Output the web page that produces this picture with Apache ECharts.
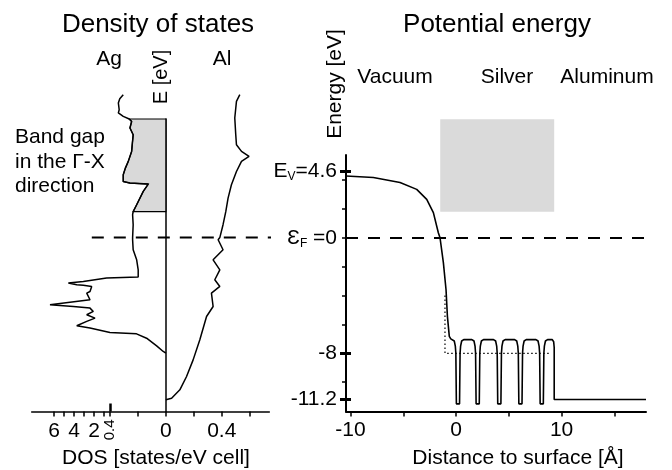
<!DOCTYPE html>
<html>
<head>
<meta charset="utf-8">
<title>Density of states / Potential energy</title>
<script src="https://cdn.jsdelivr.net/npm/echarts@6/dist/echarts.min.js"></script>
<style>
  html, body { margin: 0; padding: 0; background: #fff; }
  #chart { width: 672px; height: 470px; }
</style>
</head>
<body>
<div id="chart"></div>
<script>
// ---- values ----
// DOS panel, energy in eV, DOS in states/eV cell
var agE   = [9.88, 9.6, 9.31, 8.84, 8.62, 8.38, 8.2, 8.03, 7.58, 7.11, 6.5, 5.96, 5.27, 4.8, 4.35, 3.88, 3.77, 3.7, 3.19, 2.27, 1.8,
             1.58, 0.89, 0, -0.15, -0.84, -1.54, -2.23, -2.73, -2.8, -3.04, -3.15, -3.27, -3.3, -3.38, -3.73, -3.84, -4.3, -4.42,
             -4.65, -4.77, -4.88, -5.11, -5.34, -5.57, -5.8, -6.1, -6.26, -6.57, -6.66, -6.96, -7.49, -7.88, -8.0];
var agDos = [0.305, 0.33, 0.34, 0.334, 0.34, 0.305, 0.262, 0.245, 0.257, 0.234, 0.24, 0.245, 0.269, 0.29, 0.305, 0.305, 0.257, 0.126, 0.162, 0.209, 0.234,
             0.238, 0.234, 0.238, 0.238, 0.234, 0.209, 0.198, 0.198, 0.74, 3.07, 4.57, 3.73, 3.07, 2.23, 2.4, 2.73, 2.4, 2.4,
             6.41, 4.07, 2.4, 2.07, 2.73, 1.9, 2.73, 3.73, 2.4, 0.4, 0.21, 0.138, 0.066, 0.019, 0];
var alE   = [9.88, 9.42, 8.27, 7.11, 6.42, 5.96, 5.61, 5.27, 4.57, 3.65, 2.73, 1.81, 0.89, 0, -0.15, -0.84, -1.54, -2.23,
             -2.92, -3.38, -3.84, -4.77, -5.46, -7.07, -8.46, -9.61, -10.53, -11.11, -11.22];
var alDos = [0.529, 0.505, 0.493, 0.5, 0.505, 0.541, 0.595, 0.541, 0.505, 0.469, 0.445, 0.429, 0.409, 0.386, 0.374, 0.409, 0.338, 0.386,
             0.35, 0.386, 0.326, 0.338, 0.291, 0.243, 0.195, 0.148, 0.1, 0.041, 0];
var bandGap = [1.8, 8.2];      // Ag gap in the Gamma-X direction
var fermiLeft = [-0.53, 0.77]; // extent of the dashed E_F line, DOS units

// potential panel: [distance (A), energy (eV)]
var potential = [
  [-10.43, 4.28], [-7.84, 4.17], [-5.31, 3.82], [-3.73, 3.35], [-2.78, 2.66], [-2.15, 1.74], [-1.68, 0.35], [-1.52, 0],
  [-1.2, -1.74], [-0.95, -3.6], [-0.82, -5.44], [-0.64, -6.83], [-0.5, -7.0],
  [-0.37, -7.05], [-0.17, -7.15], [-0.07, -7.5], [-0.02, -8.0], [0.03, -11.5], [0.33, -11.5], [0.38, -8.0], [0.43, -7.5], [0.53, -7.15], [0.73, -7.05],
  [1.5, -7.05], [1.7, -7.15], [1.8, -7.5], [1.85, -8.0], [1.9, -11.5], [2.2, -11.5], [2.25, -8.0], [2.3, -7.5], [2.4, -7.15], [2.6, -7.05],
  [3.55, -7.05], [3.75, -7.15], [3.85, -7.5], [3.9, -8.0], [3.95, -11.5], [4.25, -11.5], [4.3, -8.0], [4.35, -7.5], [4.45, -7.15], [4.65, -7.05],
  [5.55, -7.05], [5.75, -7.15], [5.85, -7.5], [5.9, -8.0], [5.95, -11.5], [6.25, -11.5], [6.3, -8.0], [6.35, -7.5], [6.45, -7.15], [6.65, -7.05],
  [7.57, -7.05], [7.77, -7.15], [7.87, -7.5], [7.92, -8.0], [7.97, -11.5], [8.27, -11.5], [8.32, -8.0], [8.37, -7.5], [8.47, -7.15], [8.67, -7.05],
  [9.12, -7.05], [9.25, -7.2], [9.3, -7.6], [9.3, -11.2], [18.0, -11.2]
];
var jelliumZ = [-1.05, -1.05, 9.0];
var jelliumE = [-4.0, -8.0, -8.0];
var gapZ = [-1.5, 9.3];

// ticks
var energyTicks  = [-10, -8, -6, -4, -2, 0, 2, 4];
var energyLabels = [4.6, 0, -8, -11.2];
var energyMajor  = [4.6, -8, -11.2];
var distTicks  = [-10, -5, 0, 5, 10, 15];
var distLabels = [-10, 0, 10];
var agTicks  = [0.2, 0.4, 1, 2, 3, 4, 5, 6];
var agLabels = [2, 4, 6];
var alTicks  = [0, 0.2, 0.4, 0.6];
var alLabels = [0, 0.4];

// Ag is plotted to the left, axis squeezed beyond 0.4
var agBreak = 0.4, agSquash = 0.0714;
function agPos(v) { return v <= agBreak ? -v : -(agBreak + (v - agBreak) * agSquash); }
function agValue(p) { var a = -p; return a <= agBreak ? a : agBreak + (a - agBreak) / agSquash; }

var FONT = '"Liberation Sans", Arial, sans-serif';

var agLine = agE.map(function (e, i) { return [agPos(agDos[i]), e]; });
var alLine = alE.map(function (e, i) { return [alDos[i], e]; });
var gapPoly = [];
agE.forEach(function (e, i) {
  if (e >= bandGap[0] && e <= bandGap[1]) gapPoly.push([agPos(agDos[i]), e]);
});
gapPoly.push([0, bandGap[0]], [0, bandGap[1]]);
var jellium = jelliumZ.map(function (z, i) { return [z, jelliumE[i]]; });

var myChart = echarts.init(document.getElementById('chart'), null, { renderer: 'canvas' });

function txt(t, x, y, size, align, rot) {
  return {
    type: 'text', x: x, y: y, rotation: rot || 0, silent: true,
    style: { text: t, fill: '#000', font: size + 'px ' + FONT, textAlign: align || 'center', textVerticalAlign: 'middle' }
  };
}

var option = {
  animation: false,
  backgroundColor: '#fff',
  textStyle: { fontFamily: FONT, color: '#000' },
  grid: [
    { left: 31.7, right: 402.7, top: 119, bottom: 58.5 },
    { left: 346, right: 26, top: 155, bottom: 58.5 }
  ],
  xAxis: [
    { // DOS axis
      gridIndex: 0, type: 'value', min: -0.96, max: 0.74, position: 'bottom',
      axisLine: { onZero: false, lineStyle: { color: '#000', width: 1.5 } },
      axisTick: { customValues: agTicks.map(agPos).concat(alTicks), length: 5, lineStyle: { color: '#000', width: 1.5 } },
      axisLabel: {
        customValues: agLabels.map(agPos).concat(alLabels), fontSize: 21, color: '#000', margin: 9,
        formatter: function (val) { return val >= 0 ? String(+val.toFixed(1)) : String(Math.round(agValue(val))); }
      },
      splitLine: { show: false }
    },
    { // break mark at 0.4 on the Ag side
      gridIndex: 0, type: 'value', min: -0.96, max: 0.74, position: 'bottom',
      axisLine: { show: false, onZero: false },
      axisTick: { customValues: [agPos(agBreak)], inside: true, length: 8, lineStyle: { color: '#000', width: 2.5 } },
      axisLabel: { customValues: [agPos(agBreak)], rotate: 90, fontSize: 15, color: '#000', margin: 8,
        formatter: function (val) { return String(agValue(val)); } },
      splitLine: { show: false }
    },
    { // distance to surface
      gridIndex: 1, type: 'value', min: -10.43, max: 18.0, position: 'bottom',
      axisLine: { onZero: false, lineStyle: { color: '#000', width: 2 } },
      axisTick: { customValues: distTicks, length: 5, lineStyle: { color: '#000', width: 1.5 } },
      axisLabel: { customValues: distLabels, fontSize: 21, color: '#000', margin: 8 },
      splitLine: { show: false }
    }
  ],
  yAxis: [
    { // E axis of the DOS panel, drawn at DOS = 0
      gridIndex: 0, type: 'value', min: -12.03, max: 8.2, position: 'left',
      axisLine: { onZero: true, onZeroAxisIndex: 0, lineStyle: { color: '#000', width: 1.5 } },
      axisTick: { show: false }, axisLabel: { show: false }, splitLine: { show: false }
    },
    {
      gridIndex: 1, type: 'value', min: -12.03, max: 5.73, position: 'left',
      axisLine: { onZero: false, lineStyle: { color: '#000', width: 2 } },
      axisTick: { customValues: energyTicks, length: 4, lineStyle: { color: '#000', width: 1.5 } },
      axisLabel: { show: false }, splitLine: { show: false }
    },
    {
      gridIndex: 1, type: 'value', min: -12.03, max: 5.73, position: 'left',
      axisLine: { show: false, onZero: false },
      axisTick: { customValues: energyMajor, length: 6, lineStyle: { color: '#000', width: 3 } },
      axisLabel: {
        customValues: energyLabels, fontSize: 21, color: '#000', margin: 9,
        formatter: function (v) {
          if (v === 4.6) return '{t|E}{s|V}{t|=4.6}';
          if (v === 0) return '{t|\u0190}{s|F}{t| =0}';
          return '{t|' + v + '}';
        },
        rich: {
          t: { fontSize: 21, fontFamily: FONT, color: '#000' },
          s: { fontSize: 12, fontFamily: FONT, color: '#000', padding: [11, 0, 0, 0] }
        }
      },
      splitLine: { show: false }
    },
    {
      gridIndex: 1, type: 'value', min: -12.03, max: 5.73, position: 'left',
      axisLine: { show: false, onZero: false },
      axisTick: { customValues: energyMajor, inside: true, length: 5, lineStyle: { color: '#000', width: 3 } },
      axisLabel: { show: false }, splitLine: { show: false }
    }
  ],
  series: [
    { // band gap shading, DOS panel
      type: 'custom', xAxisIndex: 0, yAxisIndex: 0, clip: false, silent: true, z: 1,
      data: [0],
      renderItem: function (params, api) {
        return {
          type: 'polygon',
          shape: { points: gapPoly.map(function (p) { return api.coord(p); }) },
          style: { fill: '#d9d9d9', stroke: '#000', lineWidth: 1.2 }
        };
      }
    },
    { // band gap shading, potential panel
      type: 'custom', xAxisIndex: 2, yAxisIndex: 1, clip: false, silent: true, z: 1,
      encode: { x: [0, 1], y: [2, 3] },
      data: [[gapZ[0], gapZ[1], bandGap[0], bandGap[1]]],
      renderItem: function (params, api) {
        var a = api.coord([api.value(0), api.value(3)]);
        var b = api.coord([api.value(1), api.value(2)]);
        return { type: 'rect', shape: { x: a[0], y: a[1], width: b[0] - a[0], height: b[1] - a[1] },
          style: { fill: '#dadada' } };
      }
    },
    {
      name: 'Ag', type: 'line', xAxisIndex: 0, yAxisIndex: 0, data: agLine, clip: false,
      showSymbol: false, silent: true, z: 3, lineStyle: { color: '#000', width: 1.5 }
    },
    {
      name: 'Al', type: 'line', xAxisIndex: 0, yAxisIndex: 0, data: alLine, clip: false,
      showSymbol: false, silent: true, z: 3, lineStyle: { color: '#000', width: 1.5 }
    },
    {
      name: 'EF left', type: 'line', xAxisIndex: 0, yAxisIndex: 0, clip: false,
      data: [[fermiLeft[0], 0], [fermiLeft[1], 0]],
      showSymbol: false, silent: true, z: 4, lineStyle: { color: '#000', width: 2, type: [12, 10] }
    },
    {
      name: 'jellium', type: 'line', xAxisIndex: 2, yAxisIndex: 1, data: jellium,
      showSymbol: false, silent: true, z: 3, lineStyle: { color: '#000', width: 1.2, type: [1.5, 2.5] }
    },
    {
      name: 'potential', type: 'line', xAxisIndex: 2, yAxisIndex: 1, data: potential,
      showSymbol: false, silent: true, z: 4, lineStyle: { color: '#000', width: 1.6 },
      markLine: {
        silent: true, symbol: 'none', label: { show: false },
        lineStyle: { color: '#000', width: 2, type: [12, 10] },
        data: [{ yAxis: 0 }]
      }
    }
  ],
  graphic: [
    txt('Density of states', 158, 25, 26),
    txt('Potential energy', 497, 25, 26),
    txt('Ag', 109, 59, 21),
    txt('Al', 222, 59, 21),
    txt('E [eV]', 161, 77, 20, 'center', Math.PI / 2),
    txt('Band gap', 15, 137, 21, 'left'),
    txt('in the \u0393-X', 15, 162, 21, 'left'),
    txt('direction', 15, 186, 21, 'left'),
    txt('Energy [eV]', 335, 84, 21, 'center', Math.PI / 2),
    txt('Vacuum', 395, 77, 21),
    txt('Silver', 507, 77, 21),
    txt('Aluminum', 607, 77, 21),
    txt('DOS [states/eV cell]', 156, 458, 21),
    txt('Distance to surface [\u00c5]', 518, 458, 21)
  ]
};
myChart.setOption(option);
</script>
</body>
</html>
